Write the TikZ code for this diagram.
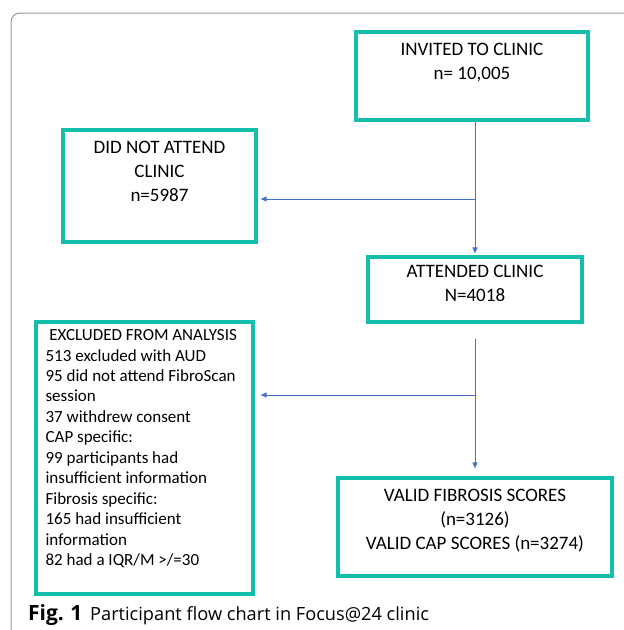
\documentclass[tikz,border=0pt]{standalone}
\usepackage{fontspec}
\setmainfont{Carlito}
\newfontfamily\capfont{Open Sans}
\usetikzlibrary{positioning,arrows.meta}

\begin{document}
\begin{tikzpicture}[
        x=1pt,y=-1pt,
        box/.style={draw=boxteal,line width=3.2pt,inner sep=0pt},
        boxtext/.style={inner sep=0pt,align=center,font=\fontsize{19}{24}\selectfont},
        listtext/.style={inner sep=0pt,align=left,font=\fontsize{17}{20.45}\selectfont},
        flow/.style={draw=flowblue,line width=0.9pt,-{Triangle[length=6pt,width=5pt]}}
    ]
        \definecolor{boxteal}{RGB}{18,190,172}
        \definecolor{flowblue}{RGB}{68,114,196}
        \useasboundingbox (0,0) rectangle (624,630);
        \clip (0,0) rectangle (624,630);

        % panel frame
        \draw [gray!80,line width=1pt,rounded corners=9pt] (11,640) -- (11,13) -- (640,13);

        % boxes
        \node (inv) [box,minimum width=232pt,minimum height=88pt]  at (472,76)    {};
        \node (dna) [box,minimum width=193pt,minimum height=112pt] at (159.5,186) {};
        \node (att) [box,minimum width=214pt,minimum height=65pt]  at (475,289.5) {};
        \node (exc) [box,minimum width=217pt,minimum height=272pt] at (144.5,458) {};
        \node (val) [box,minimum width=274pt,minimum height=98pt]  at (475,527)   {};

        % box texts
        \node (invt) [boxtext,below=13pt of inv.north] {INVITED TO CLINIC\\n= 10,005};
        \node (dnat) [boxtext,below=13pt of dna.north] {DID NOT ATTEND\\CLINIC\\n=5987};
        \node (attt) [boxtext,below=10pt of att.north] {ATTENDED CLINIC\\N=4018};
        \node (valt) [boxtext,below=13pt of val.north] {VALID FIBROSIS SCORES\\(n=3126)\\VALID CAP SCORES (n=3274)};
        \node (exct) [listtext,anchor=north west] at ([xshift=11pt,yshift=-9pt]exc.north west)
            {\ EXCLUDED FROM ANALYSIS\\513 excluded with AUD\\95 did not attend FibroScan\\session\\37 withdrew consent\\CAP specific:\\99 participants had\\insufficient information\\Fibrosis specific:\\165 had insufficient\\information\\82 had a IQR/M >/=30};

        % connectors
        \coordinate (j1) at (att.north |- 0,199);
        \coordinate (s2) at ([yshift=-15pt]att.south);
        \coordinate (j2) at (att.north |- 0,395);
        \draw [flow]  (att.north |- inv.south) -- ([yshift=2pt]att.north);
        \draw [flow]  (j1) -- ([xshift=3pt]j1 -| dna.east);
        \draw [flow]  (s2) -- ([yshift=8pt]val.north);
        \draw [flow]  (j2) -- ([xshift=6pt]j2 -| exc.east);

        % caption
        \node (cap) [anchor=west,inner sep=0pt,font=\capfont\fontsize{18.2}{22}\selectfont] at (28,615)
            {\makebox[62pt][l]{\fontsize{21}{22}\selectfont\textbf{Fig.\hspace{0.3em}1}}Participant flow chart in Focus@24 clinic};
\end{tikzpicture}
\end{document}
